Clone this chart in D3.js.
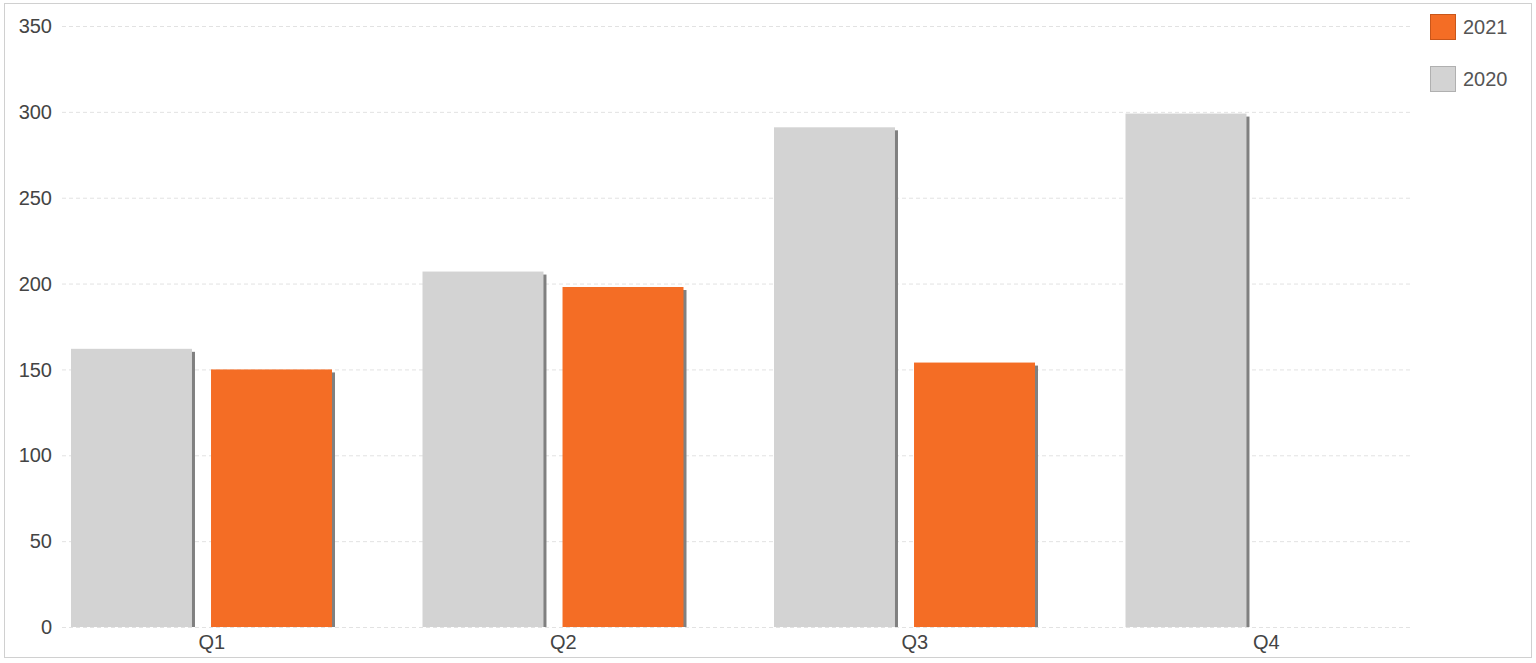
<!DOCTYPE html>
<html><head><meta charset="utf-8">
<script src="https://cdn.jsdelivr.net/npm/d3@7"></script>
<style>body{margin:0;background:#fff;} text{font-family:"Liberation Sans",Arial,sans-serif;}</style>
</head><body><svg id="c" width="1536" height="663"></svg>
<script>
const categories = ["Q1","Q2","Q3","Q4"];
const seriesNames = ["2020","2021"];
const values2020 = [162, 207, 291, 299];
const values2021 = [150, 198, 154, null];
const yTicks = [0,50,100,150,200,250,300,350];
const legendOrder = ["2021","2020"];

const colors = {"2020":"#d3d3d3","2021":"#f46d25"};
const strokes = {"2020":"#b0b0b0","2021":"#c9561a"};
const svg = d3.select("#c");
svg.append("rect").attr("x",4.5).attr("y",3.5).attr("width",1527).attr("height",654)
  .attr("fill","#fff").attr("stroke","#d0d0d0");

const y = d3.scaleLinear().domain([0,350]).range([627,26]);
const x0 = d3.scaleBand().domain(categories).range([36,1442]);
const x1 = d3.scaleBand().domain(seriesNames).range([35,296]).paddingInner(0.136);

// grid
svg.append("g").selectAll("line").data(yTicks).join("line")
  .attr("x1",62).attr("x2",1412).attr("y1",d=>y(d)+0.5).attr("y2",d=>y(d)+0.5)
  .attr("stroke","#e2e2e2").attr("stroke-dasharray","4,3");
svg.append("g").selectAll("text").data(yTicks).join("text")
  .attr("x",52).attr("y",d=>y(d)).attr("dy","0.36em").attr("text-anchor","end")
  .attr("font-size",20).attr("fill","#444").text(d=>d);

const data = [];
categories.forEach((c,i)=>{
  data.push({c, s:"2020", v:values2020[i]});
  if(values2021[i]!=null) data.push({c, s:"2021", v:values2021[i]});
});
const g = svg.append("g");
g.selectAll("rect.sh").data(data).join("rect").attr("class","sh")
  .attr("x",d=>x0(d.c)+x1(d.s)+3).attr("width",x1.bandwidth())
  .attr("y",d=>y(d.v)+3).attr("height",d=>y(0)-y(d.v)-3).attr("fill","#808080");
g.selectAll("rect.b").data(data).join("rect").attr("class","b")
  .attr("x",d=>x0(d.c)+x1(d.s)).attr("width",x1.bandwidth())
  .attr("y",d=>y(d.v)).attr("height",d=>y(0)-y(d.v)).attr("fill",d=>colors[d.s]);

svg.append("g").selectAll("text").data(categories).join("text")
  .attr("x",d=>x0(d)+x0.bandwidth()/2).attr("y",649).attr("text-anchor","middle")
  .attr("font-size",20).attr("fill","#444").text(d=>d);

const lg = svg.append("g").selectAll("g").data(legendOrder).join("g")
  .attr("transform",(d,i)=>`translate(1430,${14+i*52})`);
lg.append("rect").attr("x",0.5).attr("y",0.5).attr("width",25).attr("height",25)
  .attr("fill",d=>colors[d]).attr("stroke",d=>strokes[d]);
lg.append("text").attr("x",33).attr("y",13).attr("dy","0.36em").attr("font-size",20)
  .attr("fill","#555").text(d=>d);
</script></body></html>
